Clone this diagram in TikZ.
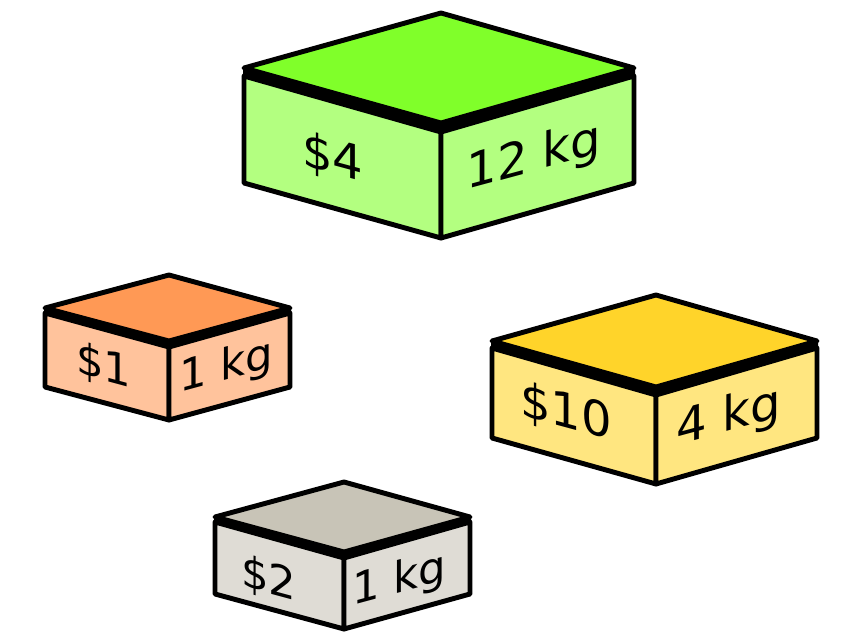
\documentclass[tikz,border=0pt]{standalone}
\usepackage{fontspec}
\setmainfont{DejaVu Sans}
\definecolor{gtop}{HTML}{80FF2A}
\definecolor{gside}{HTML}{B3FF80}
\definecolor{otop}{HTML}{FF9955}
\definecolor{oside}{HTML}{FFC39C}
\definecolor{ytop}{HTML}{FFD42A}
\definecolor{yside}{HTML}{FFE680}
\definecolor{stop}{HTML}{C8C4B7}
\definecolor{sside}{HTML}{DFDCD5}
\newcommand\cuboid[9]{% xl, xm, xr, ytop, ycorner, height, band, topcolor, sidecolor
  \path[face, fill=#9] (#1,#5+#7) -- (#2,2*#5-#4+#7+1) -- (#2,2*#5-#4+#6) -- (#1,#5+#6) -- cycle;
  \path[face, fill=#9] (#2,2*#5-#4+#7+1) -- (#3,#5+#7) -- (#3,#5+#6) -- (#2,2*#5-#4+#6) -- cycle;
  \path[fill=black, draw=black, line width=1.5pt, line join=round] (#1,#5) -- (#2,2*#5-#4) -- (#3,#5) -- (#3,#5+#7) -- (#2,2*#5-#4+#7+1) -- (#1,#5+#7) -- cycle;
  \path[face, fill=#8] (#1,#5) -- (#2,#4) -- (#3,#5) -- (#2,2*#5-#4) -- cycle;
}
\begin{document}
\begin{tikzpicture}[x=0.75pt, y=-0.75pt,
  face/.style={draw=black, line width=3.7pt, line join=round},
  bigtxt/.style={inner sep=0pt, font=\fontsize{36}{40}\selectfont},
  smalltxt/.style={inner sep=0pt, font=\fontsize{32.5}{36}\selectfont},
  lface/.style={yslant=-0.27},
  rface/.style={yslant=0.27}]
\useasboundingbox (0,0) rectangle (851,632);
% green box
\cuboid{244}{441}{634}{13}{68}{115}{8}{gtop}{gside}
\node[bigtxt, lface] (g1) at (333,159) {\$4};
\node[bigtxt, rface] (g2) at (534,158) {12 kg};
% orange box
\cuboid{45}{169}{290}{275}{308}{79}{5}{otop}{oside}
\node[smalltxt, lface] (o1) at (104,367) {\$1};
\node[smalltxt, rface] (o2) at (226,368) {1 kg};
% yellow box
\cuboid{492}{656}{817}{295}{341}{97}{7}{ytop}{yside}
\node[bigtxt, lface] (y1) at (566,413) {\$10};
\node[bigtxt, rface] (y2) at (729,418) {4 kg};
% gray box
\cuboid{215}{344}{470}{482}{517}{77}{5}{stop}{sside}
\node[smalltxt, lface] (s1) at (269,580) {\$2};
\node[smalltxt, rface] (s2) at (399,581) {1 kg};
\end{tikzpicture}
\end{document}
